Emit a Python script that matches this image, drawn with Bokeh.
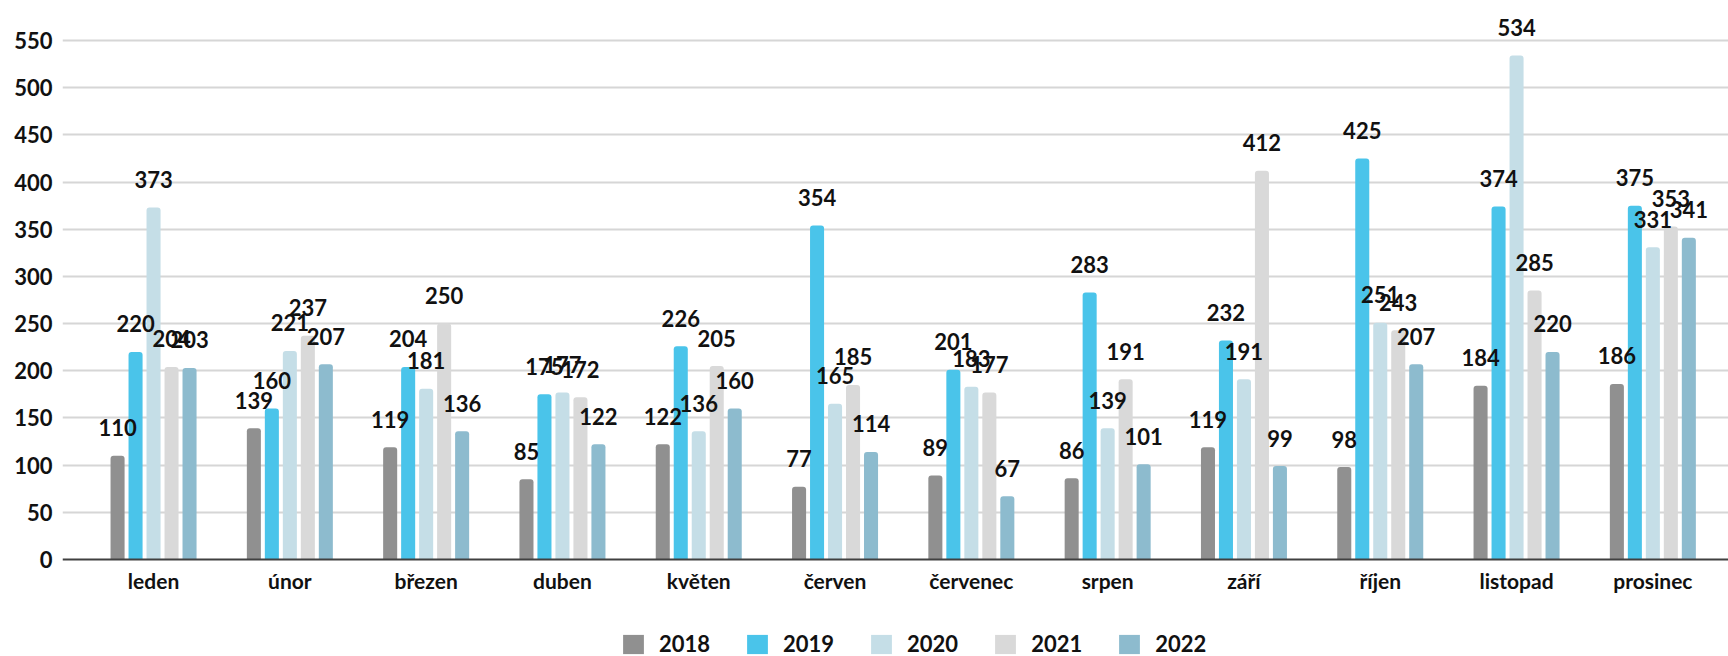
import numpy as np
from bokeh.plotting import figure
from bokeh.models import ColumnDataSource, Range1d, FixedTicker, Legend, LegendItem
from bokeh.transform import dodge
from bokeh.core.properties import value
from bokeh.embed import file_html
from bokeh.resources import INLINE

months = ["leden", "únor", "březen", "duben", "květen", "červen",
          "červenec", "srpen", "září", "říjen", "listopad", "prosinec"]
years = ["2018", "2019", "2020", "2021", "2022"]
v2018 = [110, 139, 119, 85, 122, 77, 89, 86, 119, 98, 184, 186]
v2019 = [220, 160, 204, 175, 226, 354, 201, 283, 232, 425, 374, 375]
v2020 = [373, 221, 181, 177, 136, 165, 183, 139, 191, 251, 534, 331]
v2021 = [204, 237, 250, 172, 205, 185, 177, 191, 412, 243, 285, 353]
v2022 = [203, 207, 136, 122, 160, 114, 67, 101, 99, 207, 220, 341]
colors = ["#909090", "#4ac4ea", "#c5dee7", "#d9d9d9", "#8dbbce"]
y_ticks = [0, 50, 100, 150, 200, 250, 300, 350, 400, 450, 500, 550]

series = [v2018, v2019, v2020, v2021, v2022]
xc = [i + 0.5 for i in range(len(months))]
data = {"x": xc, "month": months}
for y, s in zip(years, series):
    data["y" + y] = s
    data["t" + y] = [str(v) for v in s]
src = ColumnDataSource(data)

FONT = "Lato"

p = figure(frame_width=1666, frame_height=648, output_backend="svg", toolbar_location=None,
           x_range=Range1d(-0.168, 12.055), y_range=Range1d(-102.8, 583.9),
           min_border_left=62, min_border_right=0, min_border_top=8, min_border_bottom=0)
p.outline_line_color = None
p.background_fill_color = "white"
p.border_fill_color = "white"

step = 0.132
width = 0.103
items = []
for k, y in enumerate(years):
    off = (k - 2) * step
    r = p.vbar(x=dodge("x", off), top="y" + y, width=width, source=src,
               fill_color=colors[k], line_color=None, border_radius=(3, 3, 0, 0))
    items.append(LegendItem(label=y, renderers=[r]))
for k, y in enumerate(years):
    off = (k - 2) * step
    p.text(x=dodge("x", off), y="y" + y, text="t" + y, source=src,
           text_align="center", text_baseline="middle", y_offset=-28,
           text_font=value(FONT), text_font_style="bold", text_font_size="22px",
           text_color="#111111")

# axes
p.xaxis.fixed_location = 0
p.xaxis.ticker = FixedTicker(ticks=xc)
p.xaxis.major_label_overrides = {x: m for x, m in zip(xc, months)}
p.xaxis.major_tick_line_color = None
p.xaxis.major_tick_out = 0
p.xaxis.major_tick_in = 0
p.xaxis.minor_tick_line_color = None
p.xaxis.axis_line_color = "#404040"
p.xaxis.axis_line_width = 2
p.xaxis.major_label_text_font = FONT
p.xaxis.major_label_text_font_style = "bold"
p.xaxis.major_label_text_font_size = "21px"
p.xaxis.major_label_text_color = "#111111"
p.xaxis.major_label_standoff = 9

p.yaxis.ticker = FixedTicker(ticks=y_ticks)
p.yaxis.axis_line_color = None
p.yaxis.major_tick_line_color = None
p.yaxis.major_tick_out = 0
p.yaxis.major_tick_in = 0
p.yaxis.minor_tick_line_color = None
p.yaxis.major_label_text_font = FONT
p.yaxis.major_label_text_font_style = "bold"
p.yaxis.major_label_text_font_size = "22px"
p.yaxis.major_label_text_color = "#111111"
p.yaxis.major_label_standoff = 10

p.xgrid.grid_line_color = None
p.ygrid.ticker = FixedTicker(ticks=y_ticks[1:])
p.ygrid.grid_line_color = "#d6d6d6"
p.ygrid.grid_line_width = 2

legend = Legend(items=items, orientation="horizontal", location=(558, -1),
                glyph_width=26, glyph_height=24, label_standoff=13, spacing=34,
                padding=0, margin=0, border_line_color=None, background_fill_alpha=0,
                label_text_font=FONT, label_text_font_style="bold",
                label_text_font_size="22px", label_text_color="#111111")
p.add_layout(legend, "center")

open("out.html", "w").write(file_html(p, INLINE))
